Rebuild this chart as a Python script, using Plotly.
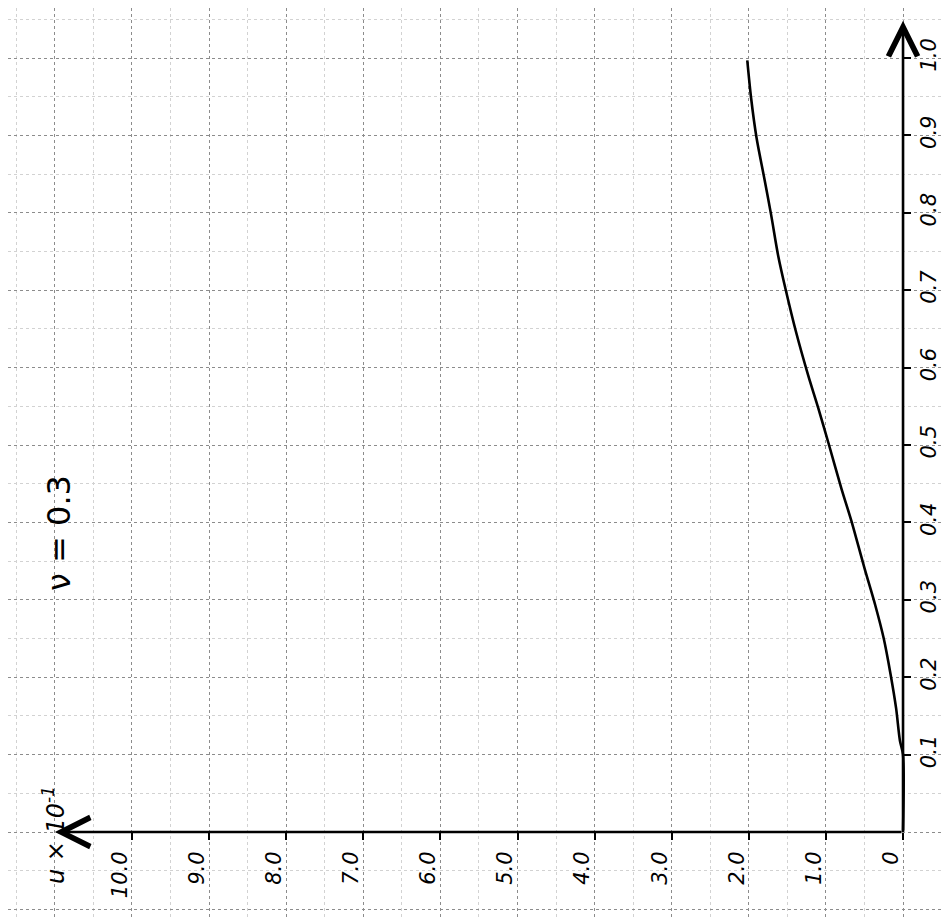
import plotly.graph_objects as go

# ---- data (curve: parameter along vertical axis, value along horizontal axis) ----
param_x = [0.0, 0.10, 0.118, 0.16, 0.203, 0.25, 0.293, 0.341, 0.402, 0.444, 0.50,
           0.548, 0.59, 0.647, 0.70, 0.745, 0.797, 0.845, 0.897, 0.948, 0.997]
value_u = [0.0, 0.0, 0.04, 0.09, 0.16, 0.25, 0.36, 0.50, 0.67, 0.80, 0.96,
           1.10, 1.23, 1.39, 1.52, 1.62, 1.71, 1.80, 1.90, 1.97, 2.02]

u_ticks = [0, 1, 2, 3, 4, 5, 6, 7, 8, 9, 10]
u_tick_text = ["0", "1.0", "2.0", "3.0", "4.0", "5.0", "6.0", "7.0", "8.0", "9.0", "10.0"]
x_ticks = [0.1, 0.2, 0.3, 0.4, 0.5, 0.6, 0.7, 0.8, 0.9, 1.0]
x_tick_text = ["0.1", "0.2", "0.3", "0.4", "0.5", "0.6", "0.7", "0.8", "0.9", "1.0"]

u_axis_end = 11.0
x_axis_end = 1.048

W, H = 949, 918
U_RANGE = [11.608, -0.700]
X_RANGE = [-0.1214, 1.0646]

font_hand = dict(family="DejaVu Sans", color="black", size=21, style="italic")

fig = go.Figure()

fig.add_trace(go.Scatter(
    x=value_u, y=param_x, mode="lines",
    line=dict(color="black", width=2.6, shape="spline", smoothing=0.8),
    showlegend=False, hoverinfo="skip", xaxis="x", yaxis="y"))

# helper trace so the overlay axes exist
fig.add_trace(go.Scatter(x=[None], y=[None], mode="markers", showlegend=False,
                         xaxis="x2", yaxis="y2", hoverinfo="skip"))

grid_major = dict(showgrid=True, gridcolor="#8c8c8c", griddash="dot", gridwidth=1)
grid_minor = dict(showgrid=True, gridcolor="#d2d2d2", griddash="dot", gridwidth=1)

fig.update_layout(
    width=W, height=H,
    margin=dict(l=0, r=0, t=0, b=0),
    paper_bgcolor="white", plot_bgcolor="white",
    showlegend=False,
    xaxis=dict(range=U_RANGE, tick0=0, dtick=1, showticklabels=False, ticks="",
               zeroline=False, showline=False,
               minor=dict(tick0=0, dtick=0.5, ticks="", **grid_minor), **grid_major),
    yaxis=dict(range=X_RANGE, tick0=0, dtick=0.1, showticklabels=False, ticks="",
               zeroline=False, showline=False,
               minor=dict(tick0=0, dtick=0.05, ticks="", **grid_minor), **grid_major),
    xaxis2=dict(range=U_RANGE, overlaying="x", anchor="free",
                position=(H - 824) / H, side="bottom",
                tickmode="array", tickvals=u_ticks, ticktext=u_tick_text,
                ticks="outside", ticklen=7, tickwidth=2, tickcolor="black",
                tickangle=-90, tickfont=font_hand, ticklabelstandoff=3,
                ticklabelshift=12,
                showgrid=False, zeroline=False, showline=False),
    yaxis2=dict(range=X_RANGE, overlaying="y", anchor="free",
                position=895 / W, side="right",
                tickmode="array", tickvals=x_ticks, ticktext=x_tick_text,
                ticks="outside", ticklen=7, tickwidth=2, tickcolor="black",
                tickangle=-90, tickfont=font_hand, ticklabelstandoff=0,
                showgrid=False, zeroline=False, showline=False),
)

# axis lines with arrowheads
fig.add_annotation(x=u_axis_end, y=0, ax=0, ay=0, xref="x", yref="y",
                   axref="x", ayref="y", text="", showarrow=True,
                   arrowhead=5, arrowsize=2.2, arrowwidth=2.6, arrowcolor="black")
fig.add_annotation(x=0, y=x_axis_end, ax=0, ay=0, xref="x", yref="y",
                   axref="x", ayref="y", text="", showarrow=True,
                   arrowhead=5, arrowsize=2.2, arrowwidth=2.6, arrowcolor="black")

# labels
fig.add_annotation(xref="paper", yref="paper", x=30 / W, y=(H - 525) / H,
                   text="ν = 0.3", showarrow=False, textangle=-90,
                   font=dict(family="DejaVu Sans", size=32, color="black"))
fig.add_annotation(xref="paper", yref="paper", x=28 / W, y=(H - 878) / H,
                   text="u × 10<sup>-1</sup>", showarrow=False, textangle=-90,
                   font=dict(family="DejaVu Sans", size=24, color="black", style="italic"))

fig.write_html("out.html")
